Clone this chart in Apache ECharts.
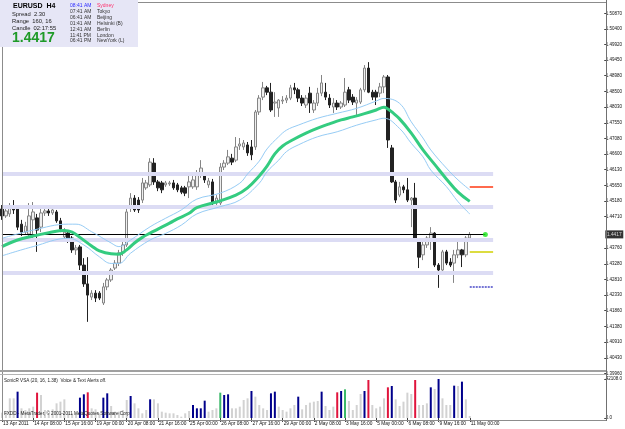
<!DOCTYPE html>
<html><head><meta charset="utf-8">
<script src="https://cdn.jsdelivr.net/npm/echarts@6/dist/echarts.min.js"></script>
<style>html,body{margin:0;padding:0;background:#fff}#c{width:625px;height:429px}</style>
</head><body><div id="c"></div>
<script>
// ---------- DATA ----------
const xTickLabels = ['13 Apr 2011','14 Apr 08:00','15 Apr 16:00','19 Apr 00:00','20 Apr 08:00','21 Apr 16:00','25 Apr 00:00','26 Apr 08:00','27 Apr 16:00','29 Apr 00:00','2 May 08:00','3 May 16:00','5 May 00:00','6 May 08:00','9 May 16:00','11 May 00:00'];
const priceTicks = [1.50870,1.50400,1.49920,1.49450,1.48980,1.48500,1.48030,1.47550,1.47080,1.46600,1.46130,1.45650,1.45180,1.44710,1.43760,1.43280,1.42810,1.42330,1.41860,1.41380,1.40910,1.40430,1.39960];
const volumeTicks = [0, 42108];
const volumeTickLabels = ['0.0', '42108.0'];

const opens = [1.4494,1.4473,1.4479,1.4497,1.4494,1.4448,1.4424,1.4418,1.4461,1.4467,
1.4439,1.4482,1.4488,1.4482,1.4485,1.4458,1.4409,1.4421,1.4406,1.4370,
1.4379,1.4324,1.4267,1.4227,1.4239,1.4239,1.4209,1.4258,1.4279,1.4315,
1.4330,1.4361,1.4385,1.4497,1.4527,1.4521,1.4521,1.4558,1.4567,1.4633,
1.4576,1.4573,1.4567,1.4570,1.4573,1.4567,1.4558,1.4558,1.4561,1.4561,
1.4561,1.4597,1.4597,1.4567,1.4576,1.4512,1.4512,1.4621,1.4633,1.4648,
1.4642,1.4685,1.4682,1.4688,1.4682,1.4682,1.4788,1.4833,1.4861,1.4848,
1.4815,1.4800,1.4821,1.4824,1.4830,1.4861,1.4855,1.4830,1.4809,1.4845,
1.4794,1.4815,1.4845,1.4848,1.4830,1.4803,1.4815,1.4803,1.4809,1.4855,
1.4833,1.4815,1.4818,1.4855,1.4921,1.4848,1.4848,1.4845,1.4864,1.4894,
1.4679,1.4576,1.4536,1.4561,1.4552,1.4521,1.4527,1.4400,1.4355,1.4385,
1.4400,1.4421,1.4324,1.4309,1.4364,1.4333,1.4330,1.4355,1.4370,1.4355,
1.4406];
const closes = [1.4473,1.4488,1.4497,1.4491,1.4439,1.4424,1.4442,1.4473,1.4485,1.4430,
1.4482,1.4488,1.4482,1.4491,1.4458,1.4433,1.4424,1.4400,1.4370,1.4376,
1.4324,1.4267,1.4233,1.4239,1.4224,1.4224,1.4258,1.4279,1.4309,1.4330,
1.4361,1.4385,1.4485,1.4527,1.4491,1.4491,1.4573,1.4573,1.4636,1.4576,
1.4558,1.4552,1.4573,1.4573,1.4558,1.4552,1.4545,1.4542,1.4576,1.4582,
1.4603,1.4618,1.4582,1.4579,1.4512,1.4527,1.4621,1.4633,1.4652,1.4636,
1.4682,1.4691,1.4694,1.4664,1.4658,1.4788,1.4830,1.4861,1.4848,1.4794,
1.4818,1.4824,1.4824,1.4830,1.4861,1.4855,1.4830,1.4815,1.4830,1.4815,
1.4815,1.4845,1.4876,1.4833,1.4809,1.4815,1.4803,1.4815,1.4848,1.4824,
1.4818,1.4824,1.4855,1.4921,1.4848,1.4833,1.4833,1.4864,1.4894,1.4703,
1.4576,1.4521,1.4561,1.4552,1.4521,1.4527,1.4400,1.4348,1.4385,1.4406,
1.4421,1.4324,1.4309,1.4364,1.4330,1.4324,1.4355,1.4370,1.4355,1.4406,
1.4417];
const lows = [1.4461,1.4467,1.4470,1.4479,1.4430,1.4412,1.4418,1.4409,1.4406,1.4364,
1.4424,1.4473,1.4473,1.4476,1.4452,1.4424,1.4400,1.4391,1.4361,1.4355,
1.4309,1.4258,1.4152,1.4218,1.4212,1.4218,1.4203,1.4248,1.4273,1.4309,
1.4321,1.4352,1.4379,1.4485,1.4485,1.4482,1.4512,1.4552,1.4561,1.4567,
1.4548,1.4542,1.4561,1.4564,1.4552,1.4545,1.4539,1.4533,1.4527,1.4555,
1.4552,1.4588,1.4573,1.4558,1.4500,1.4503,1.4500,1.4612,1.4627,1.4627,
1.4636,1.4673,1.4673,1.4655,1.4642,1.4673,1.4779,1.4824,1.4839,1.4788,
1.4773,1.4773,1.4812,1.4815,1.4824,1.4842,1.4818,1.4806,1.4800,1.4785,
1.4785,1.4806,1.4836,1.4824,1.4800,1.4785,1.4794,1.4797,1.4803,1.4815,
1.4809,1.4779,1.4812,1.4848,1.4845,1.4824,1.4809,1.4833,1.4845,1.4679,
1.4573,1.4512,1.4530,1.4542,1.4515,1.4439,1.4397,1.4315,1.4339,1.4376,
1.4370,1.4318,1.4255,1.4300,1.4324,1.4318,1.4270,1.4345,1.4318,1.4348,
1.4403];
const highs = [1.4506,1.4500,1.4512,1.4521,1.4500,1.4461,1.4455,1.4512,1.4515,1.4479,
1.4506,1.4500,1.4497,1.4497,1.4491,1.4467,1.4436,1.4430,1.4412,1.4385,
1.4385,1.4345,1.4348,1.4248,1.4248,1.4245,1.4270,1.4285,1.4315,1.4339,
1.4370,1.4394,1.4506,1.4542,1.4536,1.4530,1.4588,1.4582,1.4648,1.4648,
1.4582,1.4579,1.4579,1.4579,1.4582,1.4573,1.4564,1.4564,1.4603,1.4594,
1.4612,1.4642,1.4606,1.4588,1.4585,1.4536,1.4633,1.4642,1.4673,1.4661,
1.4712,1.4709,1.4703,1.4697,1.4703,1.4794,1.4839,1.4879,1.4867,1.4876,
1.4848,1.4827,1.4836,1.4839,1.4870,1.4876,1.4861,1.4839,1.4839,1.4864,
1.4824,1.4861,1.4900,1.4876,1.4842,1.4830,1.4824,1.4821,1.4891,1.4864,
1.4842,1.4833,1.4861,1.4930,1.4939,1.4855,1.4855,1.4876,1.4900,1.4900,
1.4688,1.4582,1.4576,1.4567,1.4588,1.4530,1.4573,1.4406,1.4394,1.4412,
1.4439,1.4424,1.4330,1.4370,1.4370,1.4345,1.4370,1.4394,1.4373,1.4412,
1.4424];

// SonicR dragon (read at sampled bars)
const dragonMidBars = [0,4,8,12,16,18,20,23,25,28,30,32,34,36,38,40,43,45,48,50,55,60,63,66,68,70,72,75,78,81,84,87,90,93,96,98,99,100,102,105,108,111,114,117,120];
const dragonMid = [1.4380,1.4400,1.4412,1.4422,1.4429,1.4424,1.4408,1.4382,1.4367,1.4358,1.4357,1.4370,1.4391,1.4408,1.4421,1.4433,1.4451,1.4464,1.4481,1.4498,1.4515,1.4536,1.4558,1.4594,1.4624,1.4661,1.4685,1.4706,1.4724,1.4739,1.4752,1.4764,1.4773,1.4783,1.4794,1.4802,1.4797,1.4788,1.4767,1.4724,1.4673,1.4629,1.4585,1.4545,1.4517];
const dragonHighBars = [0,8,17,19,23,28,30,33,38,42,46,50,56,61,63,66,68,71,73,76,81,86,91,96,98,102,105,108,110,114,117,120];
const dragonHigh = [1.4405,1.4430,1.4448,1.4448,1.4425,1.4391,1.4380,1.4400,1.4440,1.4466,1.4491,1.4524,1.4542,1.4572,1.4600,1.4639,1.4676,1.4713,1.4733,1.4748,1.4769,1.4784,1.4799,1.4821,1.4829,1.4814,1.4758,1.4709,1.4673,1.4618,1.4582,1.4552];
const dragonLowBars = [0,8,17,21,25,28,30,33,38,42,46,50,56,61,66,68,71,73,76,81,86,91,96,98,102,105,108,110,114,117,120];
const dragonLow = [1.4352,1.4380,1.4405,1.4385,1.4349,1.4329,1.4329,1.4360,1.4400,1.4420,1.4445,1.4479,1.4501,1.4521,1.4572,1.4607,1.4642,1.4668,1.4688,1.4713,1.4728,1.4748,1.4764,1.4769,1.4738,1.4693,1.4652,1.4612,1.4562,1.4516,1.4479];

const roundLevels = [1.4600, 1.4500, 1.4400, 1.4300];
const currentPrice = 1.4417;
const levelRed = 1.4562, levelYellow = 1.4363, levelBlue = 1.4257;

const volumes = [5760,6840,21240,21240,28440,10440,8640,10440,12240,27360,
24840,8640,5040,9360,15840,17640,20160,6840,5040,5760,
21960,25560,27720,10440,9360,5040,21960,26640,12960,6840,
6840,8640,19440,23760,15840,10440,5040,8640,20160,20160,
15840,6840,5760,5040,5040,3240,1440,5040,7560,14040,
10440,10440,18720,6840,8640,10440,27360,24840,25560,10440,
10440,12240,19440,21240,29160,23040,14040,10440,8640,26640,
28440,12240,8640,6840,10440,14040,23040,9360,14040,16560,
17640,18360,28440,12960,8640,12240,27720,29160,30960,18360,
8640,14040,25920,29160,41040,14040,10440,12240,21240,33120,
34560,20160,12960,17640,27360,25920,41040,14040,14040,15840,
33120,31320,42108,21240,14040,14040,34920,34560,39240,20160,
2160];
const blueBars = [4,20,21,26,27,33,38,49,50,51,52,57,58,64,69,70,76,82,87,93,100,110,112,116,118];
const redBars = [9,22,86,94,99,106];
const greenBars = [56,88];

// ---------- CHART ----------
const N = 155;
const cats = Array.from({length: N}, (_, i) => String(i));
const FONT = '"Liberation Sans", Arial, sans-serif';
const PY_MIN = 1.399394, PY_MAX = 1.511818;

const candleData = opens.map((o, i) => [o, closes[i], lows[i], highs[i]]);
const volData = volumes.map((v, i) => {
  let c = '#d2d2d2';
  if (blueBars.includes(i)) c = '#00008b';
  else if (redBars.includes(i)) c = '#e0143c';
  else if (greenBars.includes(i)) c = '#3cb96a';
  return {value: v, itemStyle: {color: c}};
});
const pairs = (idx, vals) => idx.map((k, j) => [k, vals[j]]);
const isTick = (i) => i % 8 === 0 && i <= 120;

const chart = echarts.init(document.getElementById('c'), null, {renderer: 'canvas', width: 625, height: 429});

const zoneTexts = [
  ['08:41 AM', 'Sydney'], ['07:41 AM', 'Tokyo'], ['06:41 AM', 'Beijing'],
  ['01:41 AM', 'Helsinki (B)'], ['12:41 AM', 'Berlin'], ['11:41 PM', 'London'], ['06:41 PM', 'NewYork (L)']
];
const graphics = [
  {type: 'line', z: 50, shape: {x1: 0, y1: 2.5, x2: 606, y2: 2.5}, style: {stroke: '#8c8c8c', lineWidth: 1}},
  {type: 'line', z: 50, shape: {x1: 2.5, y1: 0, x2: 2.5, y2: 420}, style: {stroke: '#8c8c8c', lineWidth: 1}},
  {type: 'line', z: 50, shape: {x1: 606.5, y1: 0, x2: 606.5, y2: 421}, style: {stroke: '#707070', lineWidth: 1}},
  {type: 'line', z: 50, shape: {x1: 0, y1: 420.5, x2: 606, y2: 420.5}, style: {stroke: '#8c8c8c', lineWidth: 1}},
  {type: 'rect', z: 50, shape: {x: 0, y: 370, width: 606, height: 2}, style: {fill: '#a0a0a0'}},
  {type: 'line', z: 50, shape: {x1: 0, y1: 374.5, x2: 606, y2: 374.5}, style: {stroke: '#b4b4b4', lineWidth: 1}},
  {type: 'rect', z: 60, shape: {x: 0, y: 0, width: 138, height: 47}, style: {fill: '#e6e6f6'}},
  {type: 'text', z: 61, x: 13, y: 6, style: {text: 'EURUSD  H4', font: 'bold 7px ' + FONT, fill: '#000', verticalAlign: 'middle'}},
  {type: 'text', z: 61, x: 12, y: 14.3, style: {text: 'Spread  2.30', font: '5.8px ' + FONT, fill: '#222', verticalAlign: 'middle'}},
  {type: 'text', z: 61, x: 12, y: 21.2, style: {text: 'Range  160, 16', font: '5.8px ' + FONT, fill: '#222', verticalAlign: 'middle'}},
  {type: 'text', z: 61, x: 12, y: 28.3, style: {text: 'Candle  02:17:55', font: '5.8px ' + FONT, fill: '#222', verticalAlign: 'middle'}},
  {type: 'text', z: 61, x: 12, y: 38.5, style: {text: '1.4417', font: 'bold 14px ' + FONT, fill: '#1e9a28', verticalAlign: 'middle'}},
  {type: 'text', z: 61, x: 4, y: 381, style: {text: 'SonicR VSA (20, 16, 1.38)  Voice & Text Alerts off.', font: '4.6px ' + FONT, fill: '#222', verticalAlign: 'middle'}},
  {type: 'text', z: 61, x: 4, y: 414, style: {text: 'FXDD - MetaTrader, \u00a9 2001-2011 MetaQuotes Software Corp.', font: '4.6px ' + FONT, fill: '#222', verticalAlign: 'middle'}}
];
zoneTexts.forEach((z, k) => {
  const y = 5.7 + k * 5.9;
  graphics.push({type: 'text', z: 61, x: 70, y: y, style: {text: z[0], font: '5px ' + FONT, fill: k === 0 ? '#2a2aff' : '#333', verticalAlign: 'middle'}});
  graphics.push({type: 'text', z: 61, x: 97, y: y, style: {text: z[1], font: '5px ' + FONT, fill: k === 0 ? '#ff2d6a' : '#333', verticalAlign: 'middle'}});
});

const option = {
  animation: false,
  backgroundColor: '#ffffff',
  grid: [
    {left: 0, right: 19, top: 3, height: 371},
    {left: 0, right: 19, top: 379, height: 39}
  ],
  xAxis: [
    {gridIndex: 0, type: 'category', data: cats, boundaryGap: true,
     axisLine: {show: false}, axisTick: {show: false}, axisLabel: {show: false}, splitLine: {show: false}},
    {gridIndex: 1, type: 'category', data: cats, boundaryGap: true,
     axisLine: {show: false},
     axisTick: {show: true, alignWithLabel: true, interval: (i) => isTick(i), length: 4, lineStyle: {color: '#444'}},
     axisLabel: {show: true, interval: (i) => isTick(i), formatter: (v) => xTickLabels[parseInt(v, 10) / 8] || '',
       align: 'left', fontSize: 4.8, color: '#111', margin: 3, fontFamily: FONT, padding: [0, 0, 0, 1]},
     splitLine: {show: false}}
  ],
  yAxis: [
    {gridIndex: 0, type: 'value', position: 'right', min: PY_MIN, max: PY_MAX,
     axisLine: {show: false}, splitLine: {show: false},
     axisTick: {show: true, customValues: priceTicks, length: 2, lineStyle: {color: '#444'}},
     axisLabel: {show: true, customValues: priceTicks, formatter: (v) => v.toFixed(5), fontSize: 4.5, color: '#111', margin: 1.5, fontFamily: FONT}},
    {gridIndex: 1, type: 'value', position: 'right', min: 0, max: 42108,
     axisLine: {show: false}, splitLine: {show: false},
     axisTick: {show: true, customValues: volumeTicks, length: 2, lineStyle: {color: '#444'}},
     axisLabel: {show: true, customValues: volumeTicks, formatter: (v) => volumeTickLabels[volumeTicks.indexOf(v)] || '', fontSize: 4.5, color: '#111', margin: 1.5, fontFamily: FONT}}
  ],
  graphic: graphics,
  series: [
    {type: 'line', xAxisIndex: 0, yAxisIndex: 0, data: [], z: 1, silent: true,
     markLine: {silent: true, symbol: ['none', 'none'], label: {show: false}, animation: false,
       lineStyle: {color: '#dcdcf4', width: 4, type: 'solid'},
       data: roundLevels.map(v => [{coord: [0, v]}, {coord: [126, v]}])}},
    {type: 'candlestick', xAxisIndex: 0, yAxisIndex: 0, data: candleData, barWidth: 3, z: 3,
     itemStyle: {color: '#efefef', color0: '#222222', borderColor: '#858585', borderColor0: '#222222', borderWidth: 1}},
    {type: 'line', xAxisIndex: 0, yAxisIndex: 0, data: pairs(dragonHighBars, dragonHigh), smooth: 0.4, symbol: 'none', z: 5,
     lineStyle: {color: '#96ccf5', width: 1}},
    {type: 'line', xAxisIndex: 0, yAxisIndex: 0, data: pairs(dragonLowBars, dragonLow), smooth: 0.4, symbol: 'none', z: 5,
     lineStyle: {color: '#96ccf5', width: 1}},
    {type: 'line', xAxisIndex: 0, yAxisIndex: 0, data: pairs(dragonMidBars, dragonMid), smooth: 0.4, symbol: 'none', z: 6,
     lineStyle: {color: '#34cc80', width: 3}},
    {type: 'line', xAxisIndex: 0, yAxisIndex: 0, data: [], z: 7, silent: true,
     markLine: {silent: true, symbol: ['none', 'none'], animation: false,
       data: [
         [{coord: [0, currentPrice], lineStyle: {color: '#000', width: 1, type: 'solid'}, label: {show: false}}, {coord: [124, currentPrice]}],
         [{coord: [120, levelRed], lineStyle: {color: '#ff6a4d', width: 2, type: 'solid'}, label: {show: false}}, {coord: [126, levelRed]}],
         [{coord: [120, levelYellow], lineStyle: {color: '#d0d000', width: 1.5, type: 'solid'}, label: {show: false}}, {coord: [126, levelYellow]}],
         [{coord: [120, levelBlue], lineStyle: {color: '#4848c8', width: 1.5, type: [2, 1]}, label: {show: false}}, {coord: [126, levelBlue]}]
       ]}},
    {type: 'scatter', xAxisIndex: 0, yAxisIndex: 0, data: [[124, currentPrice]], symbolSize: 5, z: 8,
     itemStyle: {color: '#19e619'}},
    {type: 'scatter', xAxisIndex: 0, yAxisIndex: 0, clip: false, silent: true, z: 20,
     data: [[154, currentPrice]], symbol: 'rect', symbolSize: [18, 8], symbolOffset: [12, 0],
     itemStyle: {color: '#000'},
     label: {show: true, position: 'inside', formatter: currentPrice.toFixed(4), color: '#fff', fontSize: 4.8, fontFamily: FONT}},
    {type: 'bar', xAxisIndex: 1, yAxisIndex: 1, data: volData, barWidth: 2, z: 3}
  ]
};
chart.setOption(option);
</script>
</body></html>
